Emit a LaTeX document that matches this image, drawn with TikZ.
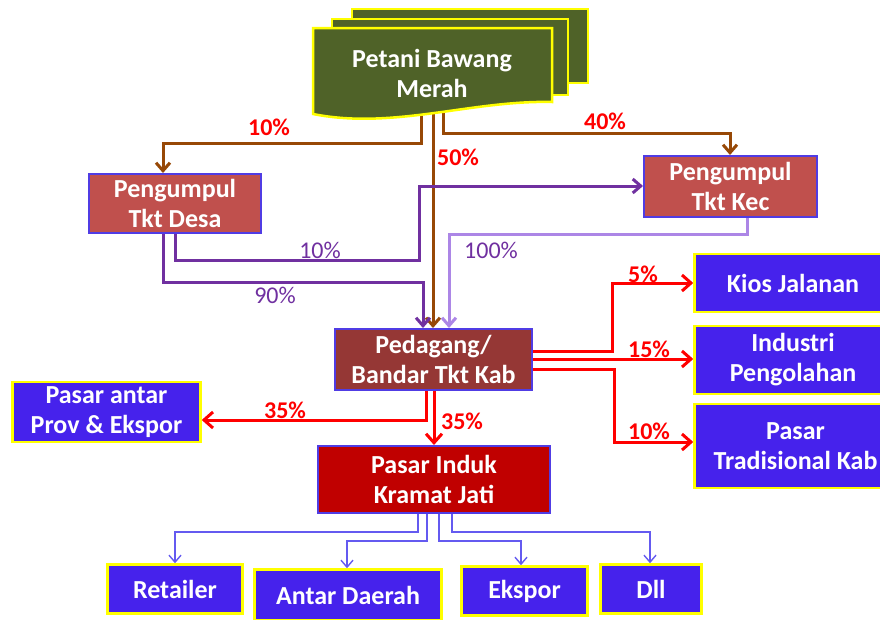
\documentclass[tikz,border=0pt]{standalone}
\usepackage{fontspec}
\setmainfont{Carlito}
\usetikzlibrary{arrows.meta}
\definecolor{olive}{RGB}{79,98,40}
\definecolor{redbox}{RGB}{192,80,77}
\definecolor{pedbox}{RGB}{149,55,53}
\definecolor{indukbox}{RGB}{192,0,0}
\definecolor{boxblue}{RGB}{70,34,236}
\definecolor{bordblue}{RGB}{80,60,228}
\definecolor{brownline}{RGB}{151,72,6}
\definecolor{purp}{RGB}{112,48,160}
\definecolor{lpurp}{RGB}{172,134,230}
\definecolor{thinblue}{RGB}{100,90,240}
\definecolor{yborder}{RGB}{255,255,0}
\pgfdeclarelayer{bg}
\pgfsetlayers{bg,main}
\tikzset{
  txt/.style={font=\bfseries\fontsize{26}{30}\selectfont, text=white, align=center, inner sep=0pt},
  sz/.style 2 args={minimum width=#1, minimum height=#2},
  rbox/.style={txt, draw=bordblue, line width=2pt, fill=#1},
  ybox/.style={txt, draw=yborder, line width=2.5pt, fill=boxblue},
  pct/.style={font=\bfseries\fontsize{24}{26}\selectfont, text=red, inner sep=0pt},
  ppct/.style={font=\fontsize{24}{26}\selectfont, text=purp, inner sep=0pt},
  brn/.style={draw=brownline, line width=3pt, -{Straight Barb[length=8pt,width=14pt,line width=3pt]}},
  prp/.style={draw=#1, line width=3pt, -{Straight Barb[length=8pt,width=14pt,line width=3pt]}},
  redl/.style={draw=red, line width=3pt, -{Straight Barb[length=9pt,width=16pt,line width=3pt]}},
  thin/.style={draw=thinblue, line width=1.6pt, -{Straight Barb[length=7pt,width=12pt,line width=1.4pt]}},
  pdoc/.style={draw=yborder, line width=2.5pt, fill=olive},
}
\begin{document}
\begin{tikzpicture}[x=1pt,y=-1pt]
\useasboundingbox (0,0) rectangle (880,619);
\clip (0,0) rectangle (880,619);

% Petani multidocument
\draw[pdoc] (352,9) rectangle (588,83);
\draw[pdoc] (332,19) rectangle (568,95);
\draw[pdoc] (313,28) -- (552,28) -- (552,102) .. controls (472,100) and (393,130) .. (313,114) -- cycle;
\node[txt] (petani) at (432,73) {Petani Bawang\\Merah};
\coordinate (pb1) at (421,105);
\coordinate (pb2) at (433,105);
\coordinate (pb3) at (443,102);

% boxes
\node[rbox=redbox, sz={172pt}{59pt}] (desa) at (175,203.5) {Pengumpul\\Tkt Desa};
\node[rbox=redbox, sz={173pt}{61pt}] (kec) at (730.5,186.5) {Pengumpul\\Tkt Kec};
\node[rbox=pedbox, sz={197pt}{61pt}] (pedagang) at (433.5,359.5) {Pedagang/\\Bandar Tkt Kab};
\node[ybox, sz={188pt}{60pt}] (antar) at (106.5,412) {Pasar antar\\Prov \& Ekspor};
\node[rbox=indukbox, sz={232pt}{67pt}] (induk) at (434,479.5) {Pasar Induk\\Kramat Jati};
\node[ybox, sz={197pt}{58pt}] (kios) at (793,283) {Kios Jalanan};
\node[ybox, sz={197pt}{68pt}] (industri) at (793,360) {Industri\\Pengolahan};
\node[ybox, sz={202pt}{84pt}] (trad) at (795.5,446) {Pasar\\Tradisional Kab};
\node[ybox, sz={135pt}{49pt}] (retailer) at (175,589) {Retailer};
\node[ybox, sz={187pt}{51pt}] (daerah) at (348,595) {Antar Daerah};
\node[ybox, sz={126pt}{49pt}] (ekspor) at (524.5,591) {Ekspor};
\node[ybox, sz={101pt}{49pt}] (dll) at (651,589) {Dll};

% connectors
\begin{pgfonlayer}{bg}
\draw[brn] (pb1) |- (163,143) -- (desa.north -| 163,0);
\draw[brn] (pb2) -- (pedagang.north -| 433,0);
\draw[brn] (pb3) |- (730,133) -- (kec.north -| 730,0);
\draw[prp=purp] (desa.south -| 175,0) |- (419,260) |- (kec.west |- 0,186);
\draw[prp=purp] (desa.south -| 163,0) |- (423,282) -- (pedagang.north -| 423,0);
\draw[prp=lpurp] (kec.south -| 747,0) |- (449,234) -- (pedagang.north -| 449,0);
\draw[redl] (pedagang.east |- 0,351) -| (612,283) -- (kios.west);
\draw[redl] (pedagang.east |- 0,359) -- (industri.west |- 0,359);
\draw[redl] (pedagang.east |- 0,369) -| (614,442) -- (trad.west |- 0,442);
\draw[redl] (pedagang.south -| 426,0) |- (antar.east |- 0,420);
\draw[redl] (pedagang.south -| 434,0) -- (induk.north -| 434,0);
\draw[thin] (induk.south -| 418,0) |- (175,532) -- (retailer.north -| 175,0);
\draw[thin] (induk.south -| 427,0) |- (347,541) -- (daerah.north -| 347,0);
\draw[thin] (induk.south -| 439,0) |- (521,541) -- (ekspor.north -| 521,0);
\draw[thin] (induk.south -| 452,0) |- (650,532) -- (dll.north -| 650,0);
\end{pgfonlayer}

% labels
\node[pct] (l10a) at (269,127) {10\%};
\node[pct] (l40) at (605,121) {40\%};
\node[pct] (l50) at (458,157) {50\%};
\node[ppct] (l10b) at (320,250) {10\%};
\node[ppct] (l90) at (275,295) {90\%};
\node[ppct] (l100) at (491,250) {100\%};
\node[pct] (l5) at (643,274) {5\%};
\node[pct] (l15) at (649,349) {15\%};
\node[pct] (l10c) at (649,431) {10\%};
\node[pct] (l35a) at (285,410) {35\%};
\node[pct] (l35b) at (462,421) {35\%};
\end{tikzpicture}
\end{document}
